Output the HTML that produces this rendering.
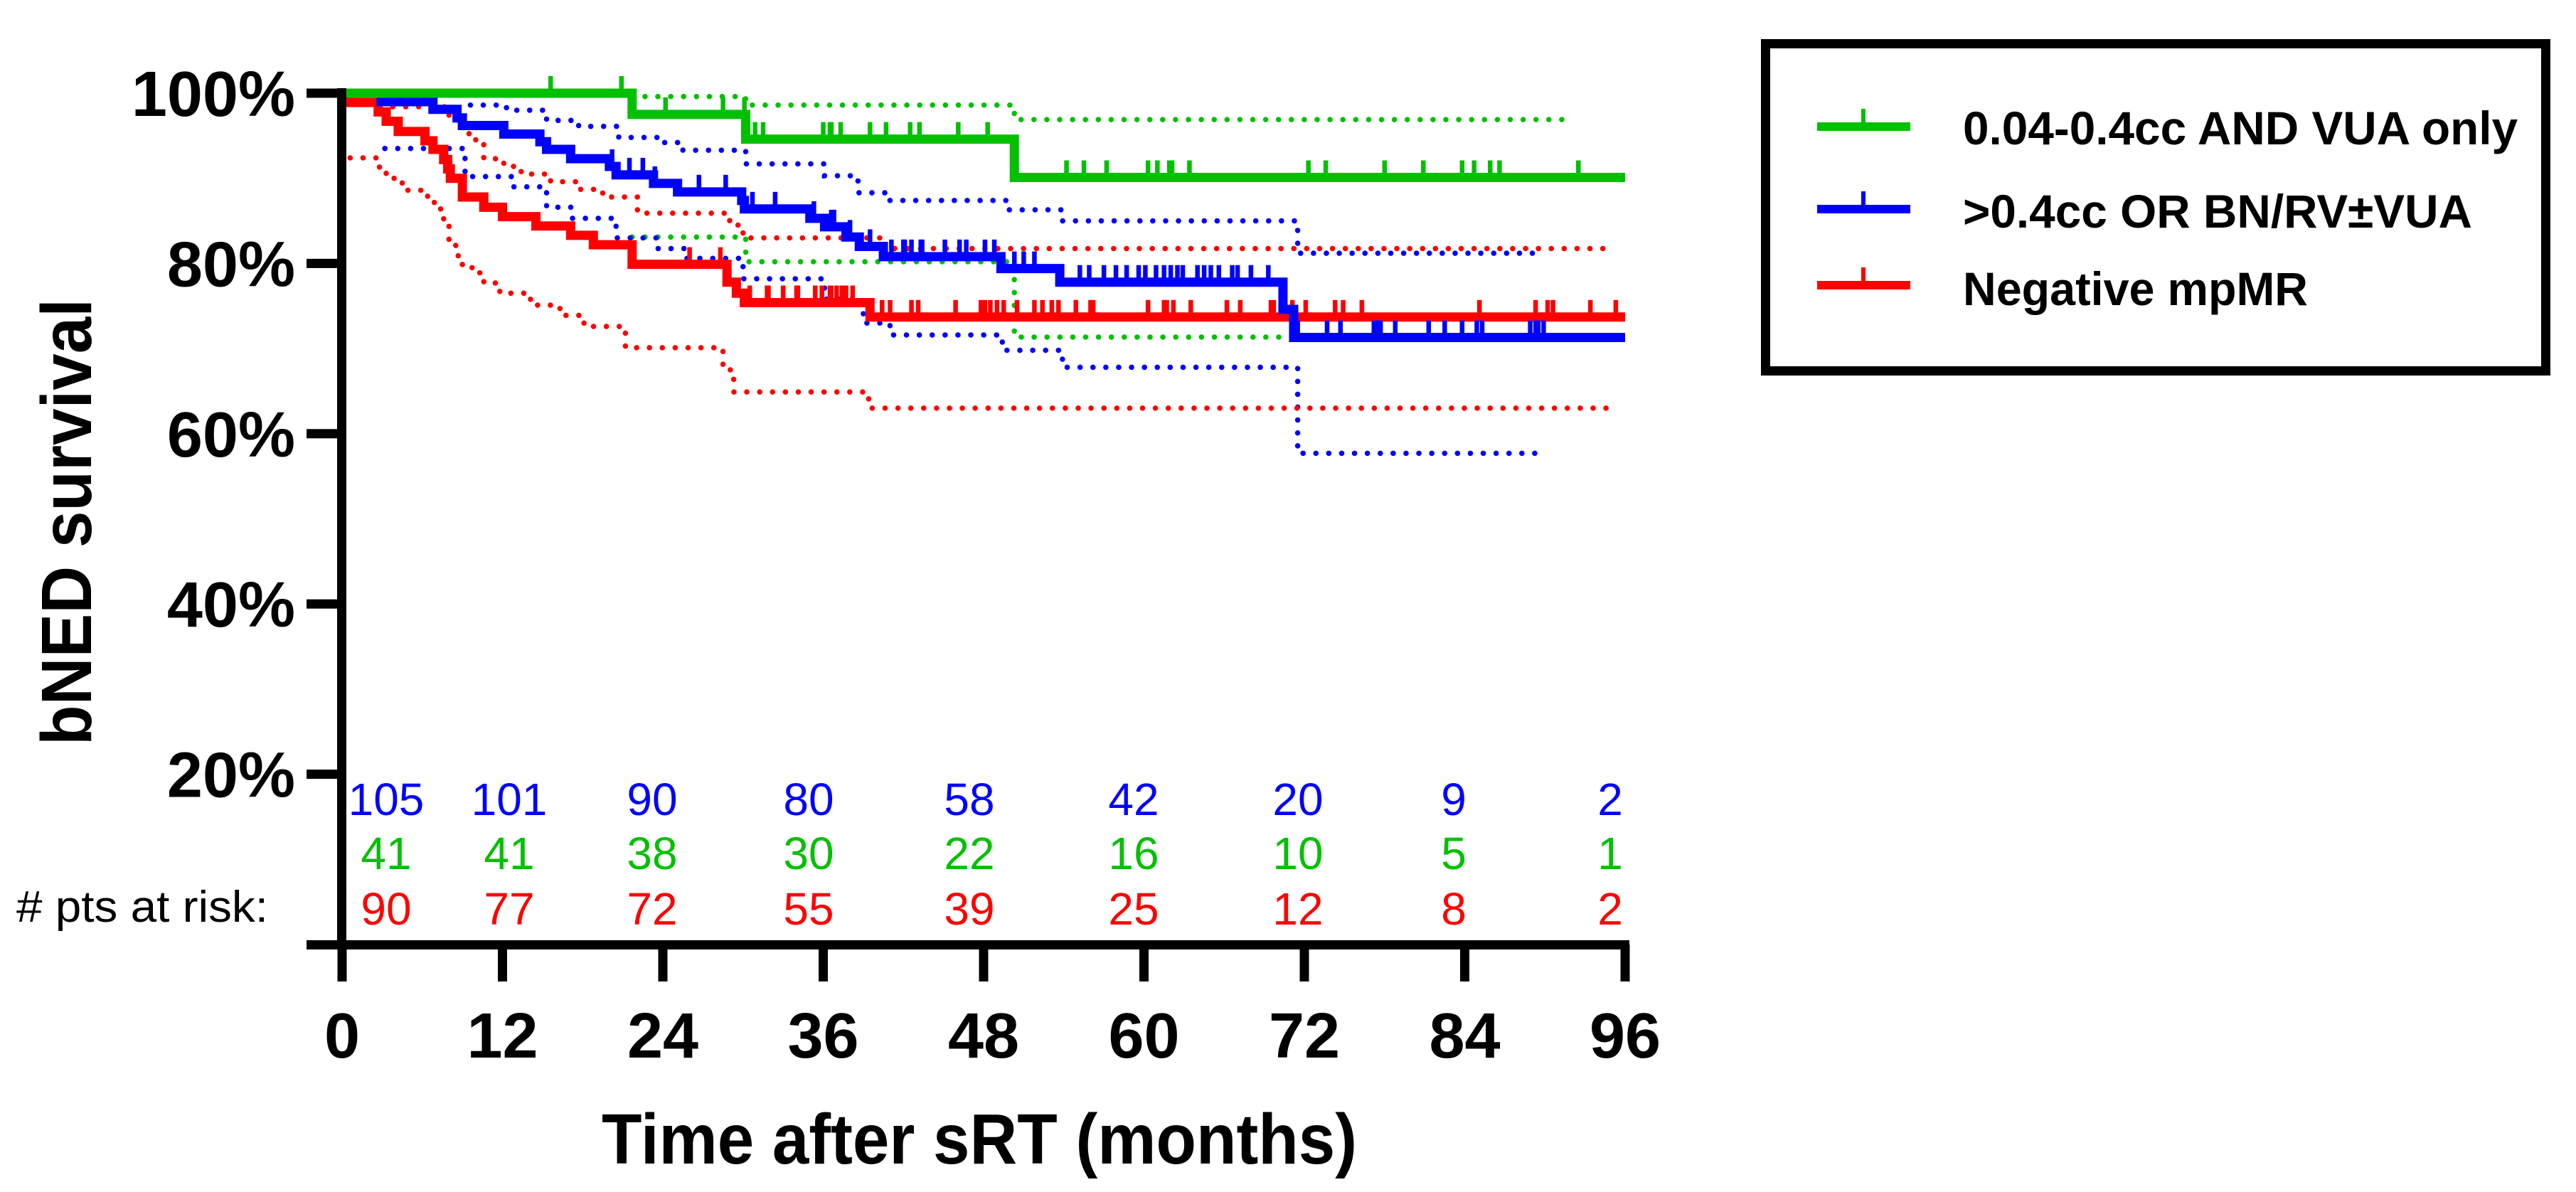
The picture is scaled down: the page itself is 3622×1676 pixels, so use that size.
<!DOCTYPE html>
<html><head><meta charset="utf-8">
<style>
html,body{margin:0;padding:0;background:#fff;}
svg{display:block;}
text{font-family:"Liberation Sans",sans-serif;}
</style></head>
<body>
<svg id="chart" width="3622" height="1676" viewBox="0 0 3622 1676" xmlns="http://www.w3.org/2000/svg">
  <g id="cis"></g>
  <g id="curves"></g>
  <g id="axes"></g>
  <g id="risk"></g>
  <text x="0" y="0" transform="translate(128,734) rotate(-90)" text-anchor="middle" font-size="100" font-weight="bold" textLength="628" lengthAdjust="spacingAndGlyphs">bNED survival</text>
  <text x="1377" y="1636" text-anchor="middle" font-size="100" font-weight="bold" textLength="1062" lengthAdjust="spacingAndGlyphs">Time after sRT (months)</text>
  <g>
    <rect x="2482.5" y="61.5" width="1097" height="460" fill="none" stroke="#000" stroke-width="13"/>
    <g>
      <rect x="2555" y="172" width="131" height="12" fill="#00c000"/>
      <rect x="2617" y="153" width="6" height="20" fill="#00c000"/>
      <text x="2760" y="203" font-size="66" font-weight="bold" textLength="780" lengthAdjust="spacingAndGlyphs">0.04-0.4cc AND VUA only</text>
    </g>
    <g>
      <rect x="2555" y="288" width="131" height="12" fill="#0000ff"/>
      <rect x="2617" y="269" width="6" height="20" fill="#0000ff"/>
      <text x="2760" y="320" font-size="66" font-weight="bold" textLength="716" lengthAdjust="spacingAndGlyphs">&gt;0.4cc OR BN/RV±VUA</text>
    </g>
    <g>
      <rect x="2555" y="395" width="131" height="12" fill="#ff0000"/>
      <rect x="2617" y="376" width="6" height="20" fill="#ff0000"/>
      <text x="2760" y="429" font-size="66" font-weight="bold" textLength="485" lengthAdjust="spacingAndGlyphs">Negative mpMR</text>
    </g>
  </g>
</svg>
<script>
// ---- data ----
const xTicks = [0,12,24,36,48,60,72,84,96];
const yTicks = [20,40,60,80,100];
const yTickLabels = ["20%","40%","60%","80%","100%"];

const greenT = [0,21.7,30.2,50.3,96];
const greenS = [100,97.5,94.6,90.1,90.1];
const greenCens = [15.6,20.9,24.2,28.5,30.1,30.9,31.5,36.0,36.5,36.6,37.3,39.5,40.7,42.5,43.2,46.1,48.3,54.2,55.5,57.2,60.3,61.0,61.9,62.1,63.4,72.3,73.6,78.0,80.9,83.8,84.7,85.9,86.6,92.5];
const greenUT = [21.7,30.2,50.3,91.9];
const greenUS = [99.6,98.6,96.9,96.9];
const greenLT = [21.7,30.2,50.3,91.9];
const greenLS = [83.1,80.2,71.35,71.35];

const blueT = [0,2.9,6.8,8.6,9.0,12.1,14.8,15.3,17.1,20.0,20.5,23.3,25.1,29.9,30.1,35.0,36.1,37.7,38.7,40.5,49.3,53.7,70.4,71.2,96];
const blueS = [100,99.0,98.1,97.1,96.2,95.2,94.3,93.4,92.3,91.4,90.4,89.4,88.4,87.4,86.4,85.3,84.3,83.1,82.0,80.8,79.4,77.8,74.6,71.3,71.3];
const blueCens = [20.2,21.5,22.5,23.4,26.7,28.7,30.7,32.4,35.3,36.6,36.8,38.0,39.5,41.1,42.0,42.1,42.6,43.3,43.4,45.1,46.2,46.7,48.1,48.8,50.3,51.0,51.8,55.2,55.9,57.0,57.9,58.7,59.6,60.1,60.9,61.5,62.0,62.5,62.9,64.0,64.5,65.0,65.6,66.6,67.0,68.0,69.3,71.5,73.7,74.7,77.2,77.5,77.7,78.8,81.3,82.5,83.8,84.9,85.3,88.9,89.3,89.5,89.9];
const blueUT = [9.6,12.3,15.3,17.7,20.7,24.1,25.5,30.2,36.1,38.6,40.9,49.8,53.8,71.5,89.7];
const blueUS = [98.6,98.0,96.8,96.1,94.8,94.2,93.3,91.7,90.3,88.3,87.4,86.3,85.0,81.2,81.2];
const blueLT = [3.2,9.2,12.8,15.3,17.2,20.5,23.5,25.7,30.0,36.1,39.0,41.0,49.4,53.9,71.5,89.7];
const blueLS = [93.5,90.2,89.0,86.6,85.3,83.0,81.75,80.6,78.2,75.8,73.0,71.6,69.8,67.8,57.7,57.7];

const redT = [0,0.5,2.7,3.3,4.2,6.2,6.8,7.6,7.9,8.1,9.0,10.6,12.0,14.5,17.1,18.8,21.7,28.8,29.5,30.1,39.5,96];
const redS = [100,98.9,97.8,96.7,95.5,94.4,93.4,92.2,91.1,90.0,87.8,86.6,85.5,84.4,83.3,82.2,79.9,77.8,76.5,75.4,73.7,73.7];
const redCens = [26.0,28.3,30.5,31.8,31.9,33.0,34.0,34.1,35.4,35.9,36.5,36.6,37.0,37.4,37.7,38.2,40.4,41.0,42.6,43.1,45.9,47.8,48.1,48.5,49.0,49.5,50.5,51.8,52.4,53.1,53.6,54.9,56.0,56.2,60.3,61.5,61.7,62.2,63.5,66.2,67.2,69.5,69.7,71.1,72.1,74.3,74.9,76.3,85.1,89.3,90.2,90.6,93.4,95.3];
const redUT = [3.8,8.0,8.6,9.5,10.0,10.6,12.1,13.4,15.6,17.7,19.5,22.1,29.0,30.0,40.3,94.8];
const redUS = [98.4,97.0,96.0,95.0,94.0,92.3,91.4,90.5,89.6,88.7,87.8,85.9,84.5,83.0,81.75,81.75];
const redLT = [0.6,2.8,3.3,4.5,6.4,6.9,7.6,8.0,8.5,9.0,10.0,10.6,11.8,14.1,16.3,18.1,21.2,28.5,29.3,39.4,95];
const redLS = [92.4,91.0,90.0,88.6,87.5,86.4,85.1,82.5,80.9,79.5,78.9,77.7,76.5,75.1,73.9,72.6,70.1,67.5,64.9,63.0,63.0];

const riskBlue = ["105","101","90","80","58","42","20","9","2"];
const riskGreen = ["41","41","38","30","22","16","10","5","1"];
const riskRed = ["90","77","72","55","39","25","12","8","2"];

// ---- scales ----
const X0 = 481, X1 = 2285, Y100 = 131, Y0 = 1328;
const xs = m => X0 + (X1 - X0) * m / 96;
const ys = p => Y0 - (Y0 - Y100) * p / 100;
const NS = "http://www.w3.org/2000/svg";
function mk(tag, attrs, parent){ const e=document.createElementNS(NS,tag); for(const k in attrs) e.setAttribute(k,attrs[k]); parent.appendChild(e); return e; }
function stepPath(T,S){ let d="M"+xs(T[0])+","+ys(S[0]); for(let i=1;i<T.length;i++){ d+=" H"+xs(T[i])+" V"+ys(S[i]); } return d; }
function valAt(T,S,t){ let v=S[0]; for(let i=0;i<T.length;i++){ if(T[i]<=t) v=S[i]; } return v; }

const cis = document.getElementById("cis");
const curves = document.getElementById("curves");
const axes = document.getElementById("axes");
const risk = document.getElementById("risk");

function band(T,S,color,name){
  const p = mk("path",{d:stepPath(T,S),fill:"none",stroke:color,"stroke-width":7.5,"stroke-linecap":"round","stroke-dasharray":"0.1 18"},cis);
  
  
}
band(greenUT,greenUS,"#00c000","green-ci-upper");
band(greenLT,greenLS,"#00c000","green-ci-lower");
band(blueUT,blueUS,"#0000ff","blue-ci-upper");
band(blueLT,blueLS,"#0000ff","blue-ci-lower");
band(redUT,redUS,"#ff0000","red-ci-upper");
band(redLT,redLS,"#ff0000","red-ci-lower");

function curve(T,S,C,color,name){
  const g = mk("g",{},curves);
  
  
  mk("path",{d:stepPath(T,S),fill:"none",stroke:color,"stroke-width":13,"stroke-linejoin":"miter","stroke-linecap":"butt"},g);
  C.forEach(t=>{
    const y = ys(valAt(T,S,t));
    const r = mk("rect",{x:xs(t)-3.2,y:y-24,width:6.5,height:24,fill:color},g);
    
    
  });
}
curve(redT,redS,redCens,"#ff0000","curve-negative-mpmr");
curve(blueT,blueS,blueCens,"#0000ff","curve-over-0.4cc");
curve(greenT,greenS,greenCens,"#00c000","curve-0.04-0.4cc");

// axes
const yAxis = mk("rect",{x:X0-7,y:Y100-7,width:13,height:Y0-Y100+14,fill:"#000"},axes);


const xAxis = mk("rect",{x:431,y:Y0-6,width:X1+6-431,height:13,fill:"#000"},axes);


yTicks.forEach((v,i)=>{
  const t = mk("rect",{x:431,y:ys(v)-6.5,width:X0-431,height:13,fill:"#000"},axes);
  
  
  const l = mk("text",{x:415,y:ys(v)+32,"text-anchor":"end","font-size":90,"font-weight":"bold"},axes);
  l.textContent = yTickLabels[i];
  
  
});
xTicks.forEach(v=>{
  const t = mk("rect",{x:xs(v)-6.5,y:Y0,width:13,height:52,fill:"#000"},axes);
  
  
  const l = mk("text",{x:xs(v),y:1487,"text-anchor":"middle","font-size":90,"font-weight":"bold"},axes);
  l.textContent = String(v);
  
  
});

// risk table
const riskX = [543,716,917,1137,1363,1594,1825,2044,2264];
function riskRow(arr,color,y,name){
  arr.forEach((s,i)=>{
    const t = mk("text",{x:riskX[i],y:y,"text-anchor":"middle","font-size":64,fill:color},risk);
    t.textContent = s;
    
    
  });
}
riskRow(riskBlue,"#0000ff",1146,"risk-count-blue");
riskRow(riskGreen,"#00c000",1222,"risk-count-green");
riskRow(riskRed,"#ff0000",1300,"risk-count-red");
const rl = mk("text",{x:23,y:1296,"font-size":62,textLength:354,lengthAdjust:"spacingAndGlyphs"},risk);
rl.textContent = "# pts at risk:";


</script>
</body></html>
